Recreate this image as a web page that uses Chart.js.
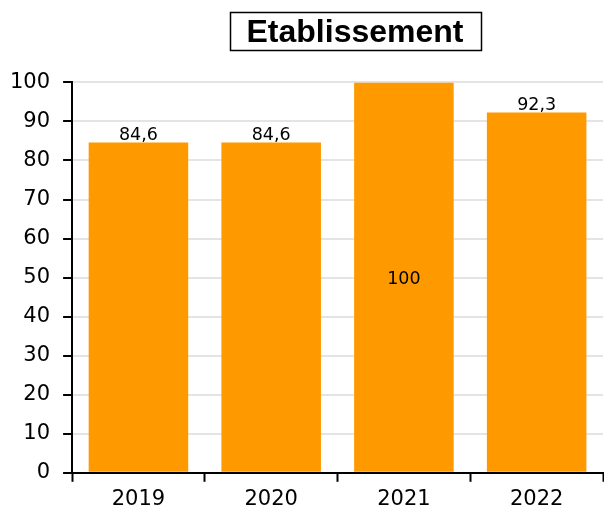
<!DOCTYPE html>
<html>
<head>
<meta charset="utf-8">
<style>
html,body{margin:0;padding:0;background:#fff;}
#wrap{width:604px;height:508px;}
</style>
<script src="https://cdn.jsdelivr.net/npm/chart.js@4/dist/chart.umd.min.js"></script>
</head>
<body>
<div id="wrap"><canvas id="c" width="604" height="508"></canvas></div>
<script>
const categories = ["2019", "2020", "2021", "2022"];
const values = [84.6, 84.6, 100, 92.3];
const yTicks = [0, 10, 20, 30, 40, 50, 60, 70, 80, 90, 100];
const titleText = "Etablissement";

const fmt = v => String(v).replace('.', ',');

const titleBox = {
  id: 'titleBox',
  afterDraw(chart) {
    const ctx = chart.ctx;
    ctx.save();
    ctx.font = 'bold 32px "Liberation Sans", Arial, sans-serif';
    const w = ctx.measureText(titleText).width;
    const cx = 355;
    ctx.fillStyle = '#000';
    ctx.textAlign = 'center';
    ctx.textBaseline = 'middle';
    ctx.fillText(titleText, cx, 33);
    ctx.strokeStyle = '#000';
    ctx.lineWidth = 1.5;
    ctx.strokeRect(Math.round(cx - w / 2 - 17) + 0.5, 12.5, Math.round(w + 34), 38);
    ctx.restore();
  }
};

const valueLabels = {
  id: 'valueLabels',
  afterDatasetsDraw(chart) {
    const ctx = chart.ctx;
    const meta = chart.getDatasetMeta(0);
    ctx.save();
    ctx.font = '17.5px "DejaVu Sans", sans-serif';
    ctx.fillStyle = '#000';
    ctx.textAlign = 'center';
    meta.data.forEach((bar, i) => {
      const v = values[i];
      if (bar.y - chart.chartArea.top < 18) {
        ctx.textBaseline = 'middle';
        ctx.fillText(fmt(v), bar.x, (bar.y + bar.base) / 2 + 2);
      } else {
        ctx.textBaseline = 'bottom';
        ctx.fillText(fmt(v), bar.x, bar.y + 2);
      }
    });
    ctx.restore();
  }
};

new Chart(document.getElementById('c'), {
  type: 'bar',
  data: {
    labels: categories,
    datasets: [{
      data: values,
      backgroundColor: '#FF9900',
      borderWidth: 0,
      categoryPercentage: 1,
      barPercentage: 0.75
    }]
  },
  options: {
    responsive: false,
    animation: false,
    devicePixelRatio: 1,
    layout: { padding: { left: -3, right: 1, top: 0, bottom: -10 } },
    plugins: {
      legend: { display: false },
      tooltip: { enabled: false },
      title: {
        display: true,
        text: titleText,
        color: 'rgba(0,0,0,0)',
        font: { family: '"Liberation Sans", Arial, sans-serif', size: 32, weight: 'bold' },
        padding: { top: 12, bottom: 32 }
      }
    },
    scales: {
      x: {
        grid: { drawOnChartArea: false, drawTicks: true, tickLength: 9, tickColor: '#000', tickWidth: 2, offset: true },
        border: { color: '#000', width: 2 },
        ticks: { color: '#000', font: { family: '"DejaVu Sans", sans-serif', size: 21 }, padding: 5.5 }
      },
      y: {
        min: 0, max: 100,
        afterBuildTicks(axis) { axis.ticks = yTicks.map(v => ({ value: v })); },
        grid: { color: '#e4e4e4', lineWidth: 2, tickLength: 9, tickColor: '#000', tickWidth: 2 },
        border: { color: '#000', width: 2 },
        ticks: { color: '#000', font: { family: '"DejaVu Sans", sans-serif', size: 21 }, padding: 13 }
      }
    }
  },
  plugins: [valueLabels, titleBox]
});
</script>
</body>
</html>
